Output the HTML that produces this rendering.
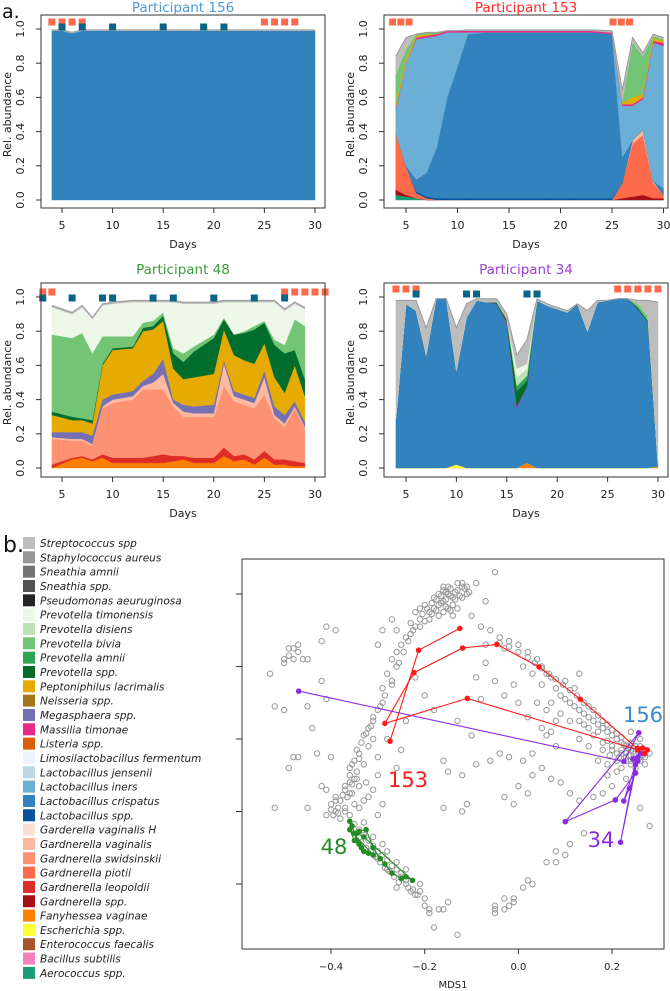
<!DOCTYPE html>
<html><head><meta charset="utf-8">
<style>
html,body{margin:0;padding:0;background:#fff;}
svg{display:block;font-family:"DejaVu Sans","Liberation Sans",sans-serif;}
</style></head>
<body>
<svg id="fig" width="670" height="991" viewBox="0 0 670 991" xmlns="http://www.w3.org/2000/svg">
<text x="2" y="18" font-size="19" fill="#111">a.</text>
<text x="3" y="552" font-size="22" fill="#111">b.</text>
<g id="panels"></g>
<g id="legend"></g>
<g id="mds"></g>
</svg>
<script>
const taxa = ["Streptococcus spp","Staphylococcus aureus","Sneathia amnii","Sneathia spp.","Pseudomonas aeuruginosa","Prevotella timonensis","Prevotella disiens","Prevotella bivia","Prevotella amnii","Prevotella spp.","Peptoniphilus lacrimalis","Neisseria spp.","Megasphaera spp.","Massilia timonae","Listeria spp.","Limosilactobacillus fermentum","Lactobacillus jensenii","Lactobacillus iners","Lactobacillus crispatus","Lactobacillus spp.","Garderella vaginalis H","Gardnerella vaginalis","Gardnerella swidsinskii","Gardnerella piotii","Gardnerella leopoldii","Gardnerella spp.","Fanyhessea vaginae","Escherichia spp.","Enterococcus faecalis","Bacillus subtilis","Aerococcus spp."];
const taxaColors = ["#bdbdbd","#969696","#737373","#525252","#252525","#edf8e9","#bae4b3","#74c476","#31a354","#006d2c","#e6ab02","#a6761d","#7570b3","#e7298a","#d95f02","#eff3ff","#bdd7e7","#6baed6","#3182bd","#08519c","#fee0d2","#fcbba1","#fc9272","#fb6a4a","#de2d26","#a50f15","#ff7f00","#ffff33","#a65628","#f781bf","#1b9e77"];

const p156Days = [4,5,6,7,8,10,12,13,15,17,19,21,23,25,27,28,30];
const p156Crisp = [0.99,0.99,0.975,0.99,0.99,0.99,0.99,0.99,0.99,0.99,0.99,0.99,0.99,0.99,0.99,0.99,0.99];
const p156Strep = [0.005,0.005,0.005,0.005,0.005,0.005,0.005,0.005,0.005,0.005,0.005,0.005,0.005,0.005,0.005,0.005,0.005];
const p156RedDays = [4,5,6,7,25,26,27,28];
const p156TealDays = [5,7,10,15,19,21];

const p153Days = [4,5,6,7,8,9,10,11,13,15,17,19,21,23,25,26,27,28,29,30];
const p153Aero =   [0.03,0.02,0.01,0,0,0,0,0,0,0,0,0,0,0,0,0,0,0,0,0];
const p153Gspp =   [0.03,0.01,0,0,0,0,0,0,0,0,0,0,0,0,0,0.01,0.02,0.03,0.01,0.01];
const p153Piotii = [0.33,0.17,0.03,0.01,0,0,0,0,0,0,0,0,0,0,0,0.09,0.31,0.35,0.09,0.02];
const p153Gvag =   [0,0,0,0,0,0,0,0,0,0,0,0,0,0,0,0,0.02,0.03,0.01,0];
const p153Lspp =   [0,0,0.01,0.01,0.01,0.01,0.01,0.01,0.01,0.01,0.01,0.01,0.01,0.01,0.01,0,0,0,0,0];
const p153Crisp =  [0,0,0.07,0.14,0.30,0.59,0.77,0.96,0.97,0.97,0.97,0.97,0.97,0.97,0.96,0.15,0,0,0,0.04];
const p153Iners =  [0.14,0.60,0.82,0.79,0.65,0.38,0.20,0.01,0,0,0,0,0,0,0,0.30,0.20,0.18,0.81,0.83];
const p153Mass =   [0.01,0,0.01,0.01,0.01,0.01,0.01,0.01,0.01,0.01,0.01,0.01,0.01,0.01,0.01,0.01,0.01,0.01,0.01,0.02];
const p153Pept =   [0.03,0.02,0.01,0.01,0,0,0,0,0,0,0,0,0,0,0,0.01,0.04,0.02,0.02,0.01];
const p153Bivia =  [0.16,0.06,0.01,0.01,0.01,0,0,0,0,0,0,0,0,0,0,0.01,0.32,0.22,0.01,0.01];
const p153Strep =  [0.11,0.07,0,0,0,0,0,0.005,0.005,0.005,0.005,0.005,0.005,0.005,0.01,0.06,0.03,0.02,0.01,0.01];
const p153RedDays = [3.7,4.5,5.3,25.1,25.9,26.7];

const p48Days = [4,6,7,8,9,10,12,13,14,15,16,17,18,20,21,22,23,24,25,26,27,28,29];
const p48Fany =  [0,0.05,0.06,0.04,0.06,0.03,0.03,0.03,0.03,0.03,0.04,0.05,0.03,0.03,0.07,0.04,0.05,0.02,0.06,0.02,0.02,0.01,0.01];
const p48Leop =  [0.02,0.01,0.01,0.01,0.02,0.03,0.03,0.03,0.04,0.05,0.03,0.02,0.03,0.03,0.05,0.03,0.03,0.03,0.04,0.03,0.03,0.03,0.02];
const p48Swid =  [0.15,0.10,0.09,0.08,0.27,0.32,0.34,0.40,0.39,0.38,0.29,0.23,0.24,0.24,0.36,0.32,0.29,0.30,0.33,0.24,0.19,0.31,0.20];
const p48Gvag =  [0.01,0.01,0.01,0.01,0.01,0.02,0.02,0.02,0.04,0.09,0.02,0.03,0.02,0.02,0.13,0.03,0.03,0.03,0.10,0.02,0.02,0.01,0.01];
const p48Mega =  [0.03,0.04,0.04,0.05,0.04,0.03,0.03,0.03,0.05,0.09,0.02,0.04,0.04,0.05,0.02,0.03,0.03,0.03,0.04,0.05,0.05,0.03,0.03];
const p48Pept =  [0.10,0.07,0.07,0.07,0.20,0.26,0.25,0.29,0.26,0.22,0.18,0.15,0.17,0.18,0.18,0.21,0.20,0.20,0.16,0.17,0.13,0.21,0.15];
const p48Pspp =  [0.02,0.02,0.01,0.02,0.01,0.01,0.01,0.02,0.02,0.03,0.09,0.10,0.15,0.21,0.06,0.12,0.16,0.20,0.12,0.19,0.23,0.09,0.10];
const p48Bivia = [0.45,0.46,0.50,0.39,0.16,0.07,0.06,0.03,0.03,0.02,0.03,0.05,0.03,0.02,0.01,0,0.01,0.02,0.01,0.03,0.05,0.18,0.31];
const p48Timon = [0.16,0.14,0.15,0.20,0.18,0.19,0.20,0.12,0.11,0.06,0.27,0.29,0.25,0.18,0.09,0.19,0.17,0.14,0.11,0.22,0.20,0.09,0.10];
const p48Strep = [0.01,0.01,0.01,0.01,0.01,0.01,0.01,0.01,0.01,0.01,0.01,0.01,0.01,0.01,0.01,0.01,0.01,0.01,0.01,0.01,0.01,0.01,0.01];
const p48RedDays = [3.1,4,27,28,29,30,31];
const p48TealDays = [3.1,6,9,10,14,16,20,24,27];

const p34Days = [4,5,6,7,8,9,10,11,12,13,14,15,16,17,18,19,20,21,22,23,24,25,26,27,28,29,30];
const p34Fany =  [0,0,0,0,0,0,0,0,0,0,0,0,0,0.03,0,0,0,0,0,0,0,0,0,0,0,0,0.01];
const p34Esch =  [0,0,0,0,0,0,0.02,0,0,0,0,0,0,0,0,0,0,0,0,0,0,0,0,0,0,0,0];
const p34Crisp = [0.29,0.96,0.92,0.66,0.99,0.99,0.55,0.88,0.98,0.97,0.96,0.84,0.35,0.45,0.98,0.95,0.93,0.91,0.96,0.80,0.97,0.98,0.99,0.99,0.93,0.85,0.01];
const p34Mass =  [0,0,0,0,0,0,0,0,0,0,0,0.01,0.01,0,0,0,0,0,0,0,0,0,0,0,0,0,0];
const p34Pspp =  [0,0,0,0,0,0,0,0,0,0,0.01,0.02,0.09,0.03,0,0,0,0,0,0,0,0,0,0,0.01,0.01,0];
const p34Amnii = [0,0,0,0,0,0,0,0,0,0,0,0,0.03,0.03,0,0,0,0,0,0,0,0,0,0,0,0,0];
const p34Bivia = [0,0,0,0,0,0,0,0,0,0,0,0,0,0,0,0,0,0,0,0,0,0,0,0,0.02,0.03,0];
const p34Dis =   [0,0,0,0,0,0,0,0,0,0,0,0,0.05,0.04,0,0,0,0,0,0,0,0,0,0,0,0,0];
const p34Timon = [0,0,0,0,0,0,0,0,0,0,0,0,0.05,0.03,0,0,0,0,0,0,0,0,0,0,0,0,0];
const p34Strep = [0.69,0.02,0.06,0.16,0,0,0.25,0.08,0.01,0.02,0.02,0.03,0.08,0.14,0.01,0.01,0.01,0.01,0,0.12,0.01,0,0,0,0.02,0.09,0.95];
const p34RedDays = [4,5,6,26,27,28,29,30];
const p34TealDays = [6,11,12,17,18];

const mdsX = [-0.17,-0.16,-0.15,-0.16,-0.17,-0.18,-0.14,-0.13,-0.12,-0.13,-0.11,-0.14,-0.19,-0.20,-0.21,-0.15,-0.18,-0.16,-0.12,-0.11,-0.09,-0.07,-0.19,-0.21,-0.14,-0.22,-0.17,-0.15,-0.05,-0.13,
-0.22,-0.23,-0.24,-0.25,-0.26,-0.27,-0.26,-0.28,-0.29,-0.27,-0.29,-0.30,-0.31,-0.32,-0.33,-0.32,-0.34,-0.35,-0.33,-0.36,-0.35,-0.37,-0.36,-0.38,-0.40,-0.39,-0.41,-0.38,-0.36,-0.34,-0.37,-0.30,-0.31,-0.29,-0.32,-0.34,-0.30,-0.28,-0.31,-0.36,-0.42,-0.41,-0.39,-0.33,-0.30,
-0.31,-0.29,-0.28,-0.26,-0.25,-0.24,-0.23,-0.22,-0.21,-0.26,-0.28,-0.30,-0.20,-0.19,-0.17,-0.16,-0.21,-0.24,
-0.10,-0.08,-0.06,-0.04,-0.02,0.00,0.02,-0.03,0.04,0.05,0.06,0.07,0.05,0.08,0.09,0.10,0.11,0.12,0.13,0.14,0.15,0.16,0.17,0.18,0.19,0.20,0.21,0.22,0.23,0.24,0.22,0.20,0.23,0.25,0.21,0.19,0.17,0.10,0.12,0.13,0.01,0.03,-0.01,0.07,0.09,0.11,0.14,0.16,0.13,0.15,0.18,0.08,0.05,0.02,0.00,-0.03,-0.05,-0.07,-0.09,-0.07,
-0.20,-0.22,-0.18,-0.16,-0.15,-0.13,-0.10,-0.08,-0.06,-0.04,-0.03,-0.01,0.00,0.03,0.05,0.07,0.09,0.11,0.13,0.08,0.06,0.03,-0.09,-0.12,-0.16,-0.12,-0.11,-0.02,0.02,0.01,-0.24,-0.25,-0.26,-0.43,-0.40,-0.44,-0.45,-0.42,-0.41,-0.45,-0.50,-0.52,-0.53,-0.52,-0.48,-0.49,-0.47,-0.29,-0.30,-0.27,-0.26,-0.41,-0.42,-0.39,
-0.50,-0.49,-0.48,-0.49,-0.47,-0.50,-0.48,-0.47,-0.46,-0.45,
0.24,0.25,0.26,0.26,0.27,0.23,0.24,0.22,0.25,0.27,0.28,0.26,0.24,0.21,0.19,0.20,0.23,0.26,0.28,0.18,0.16,
0.14,0.11,0.10,0.08,0.06,0.08,0.03,0.02,0.01,-0.01,-0.01,-0.02,-0.03,-0.03,-0.05,-0.05,-0.05,-0.13,-0.18,-0.19,-0.15];
const mdsY = [0.40,0.41,0.40,0.38,0.37,0.36,0.39,0.41,0.42,0.43,0.42,0.37,0.35,0.37,0.36,0.36,0.39,0.35,0.39,0.40,0.43,0.38,0.33,0.33,0.34,0.35,0.34,0.42,0.46,0.36,
0.31,0.29,0.28,0.26,0.24,0.22,0.20,0.18,0.14,0.15,0.10,0.08,0.05,0.03,0.01,-0.02,-0.04,-0.06,-0.07,-0.08,-0.11,-0.13,-0.15,-0.17,-0.18,-0.20,-0.21,-0.22,-0.21,-0.19,-0.19,-0.10,-0.14,-0.18,-0.16,-0.13,-0.05,0.00,0.00,-0.12,-0.13,-0.14,-0.16,-0.23,-0.21,
-0.27,-0.29,-0.31,-0.34,-0.38,-0.40,-0.42,-0.43,-0.42,-0.41,-0.36,-0.33,-0.46,-0.48,-0.47,-0.47,-0.40,-0.36,
0.34,0.31,0.30,0.28,0.27,0.26,0.24,0.25,0.22,0.20,0.18,0.17,0.15,0.14,0.12,0.11,0.10,0.09,0.08,0.07,0.06,0.05,0.04,0.03,0.02,0.01,0.00,-0.01,-0.02,-0.03,-0.04,-0.03,-0.05,-0.02,-0.06,-0.07,-0.06,0.16,0.14,0.18,0.20,0.18,0.15,0.10,0.07,0.05,0.04,0.01,0.00,-0.02,-0.01,0.05,0.03,0.06,0.10,0.12,0.16,0.21,0.17,0.26,
0.12,0.17,0.08,-0.06,-0.09,0.05,0.01,0.11,-0.06,-0.04,-0.16,-0.18,-0.13,-0.10,-0.08,-0.11,-0.12,-0.15,-0.17,-0.02,0.01,-0.04,-0.07,-0.10,-0.19,-0.20,-0.18,-0.05,-0.15,-0.06,0.05,-0.03,-0.08,-0.04,-0.05,0.03,-0.19,0.16,0.11,0.09,0.08,0.09,0.18,-0.19,-0.05,-0.08,-0.05,0.30,0.26,0.33,0.30,0.31,0.27,0.30,
0.22,0.23,0.22,0.25,0.24,0.21,0.25,0.26,0.22,0.22,
-0.01,-0.04,-0.02,-0.05,-0.03,-0.04,-0.06,-0.08,-0.08,-0.07,-0.04,0.00,0.02,-0.09,-0.10,-0.13,-0.11,-0.19,-0.24,-0.15,-0.16,
-0.26,-0.29,-0.32,-0.34,-0.34,-0.31,-0.40,-0.39,-0.41,-0.44,-0.45,-0.46,-0.44,-0.47,-0.47,-0.46,-0.48,-0.54,-0.52,-0.47,-0.45];
const mdsDenseX = [-0.165,-0.155,-0.145,-0.165,-0.175,-0.185,-0.135,-0.125,-0.115,-0.145,-0.155,-0.175,-0.195,-0.205,-0.155,-0.135,-0.105,-0.12,-0.16,-0.185,-0.145,-0.2,-0.21,-0.23,-0.225,
-0.315,-0.325,-0.335,-0.345,-0.34,-0.355,-0.345,-0.36,-0.355,-0.37,-0.365,-0.375,-0.39,-0.385,-0.40,-0.395,-0.385,-0.37,-0.35,-0.33,-0.355,-0.345,-0.325,-0.31,-0.295,-0.285,-0.27,-0.255,-0.245,-0.235,
-0.35,-0.34,-0.33,-0.32,-0.31,-0.30,-0.29,-0.28,-0.27,-0.26,-0.25,-0.24,-0.235,-0.225,-0.215,-0.255,-0.265,-0.275,-0.285,-0.295,-0.305,-0.315,-0.325,-0.335,-0.2,
-0.04,-0.02,0.0,0.02,0.035,0.05,0.065,0.08,0.095,0.11,0.125,0.14,0.15,0.16,0.17,0.18,0.19,0.20,0.21,0.22,0.225,0.235,0.245,0.13,0.15,0.17,0.19,0.2,0.21,0.215,0.195,0.18,0.06,0.07,0.04,
0.235,0.245,0.255,0.265,0.25,0.24,0.23,0.22,0.26,0.27];
const mdsDenseY = [0.395,0.385,0.395,0.375,0.385,0.375,0.405,0.395,0.415,0.415,0.365,0.355,0.36,0.345,0.405,0.385,0.405,0.43,0.42,0.345,0.355,0.325,0.31,0.32,0.30,
0.035,0.015,-0.01,-0.03,-0.055,-0.07,-0.09,-0.10,-0.125,-0.14,-0.16,-0.155,-0.17,-0.19,-0.195,-0.21,-0.205,-0.2,-0.18,-0.17,-0.15,-0.11,-0.12,0.06,0.09,0.12,0.16,0.21,0.24,0.27,
-0.235,-0.25,-0.265,-0.28,-0.295,-0.31,-0.32,-0.335,-0.35,-0.36,-0.37,-0.39,-0.41,-0.415,-0.43,-0.395,-0.38,-0.365,-0.355,-0.34,-0.325,-0.31,-0.30,-0.285,-0.44,
0.265,0.255,0.24,0.225,0.21,0.195,0.18,0.165,0.15,0.135,0.12,0.10,0.09,0.08,0.065,0.05,0.04,0.025,0.015,0.005,-0.015,-0.025,-0.035,0.05,0.03,0.02,-0.005,-0.02,-0.04,-0.05,-0.045,-0.03,0.08,0.02,0.10,
-0.045,-0.055,-0.035,-0.045,-0.02,-0.07,-0.06,-0.03,-0.06,-0.05];
const red153aX = [-0.274,-0.213,-0.125];
const red153aY = [-0.006,0.245,0.305];
const red153bX = [0.255,-0.109,-0.285,-0.223,-0.119,-0.046,0.044,0.132,0.254,0.265,0.275,0.27];
const red153bY = [-0.03,0.112,0.043,0.183,0.251,0.261,0.199,0.110,-0.026,-0.025,-0.03,-0.04];
const pur34X = [-0.469,0.225,0.257,0.100,0.207,0.250,0.237,0.225,0.250,0.218,0.255,0.261,0.245,0.255];
const pur34Y = [0.132,-0.062,0.017,-0.228,-0.168,-0.094,-0.136,-0.171,-0.070,-0.285,-0.050,-0.040,-0.055,-0.060];
const grn48X = [-0.36,-0.355,-0.35,-0.345,-0.34,-0.335,-0.33,-0.32,-0.31,-0.36,-0.35,-0.34,-0.325,-0.31,-0.295,-0.285,-0.27,-0.25,-0.24,-0.226,-0.33,-0.345];
const grn48Y = [-0.227,-0.24,-0.26,-0.28,-0.29,-0.30,-0.31,-0.315,-0.32,-0.25,-0.28,-0.255,-0.25,-0.30,-0.33,-0.345,-0.37,-0.385,-0.38,-0.39,-0.27,-0.26];
const mdsXTicks = [-0.4,-0.2,0.0,0.2];
const mdsXTickLabels = ["-0.4","-0.2","0.0","0.2"];
const mdsYTicks = [0.4,0.2,0.0,-0.2,-0.4];

const NS = "http://www.w3.org/2000/svg";
function mk(tag, attrs, parent){ const e=document.createElementNS(NS,tag); for(const k in attrs) e.setAttribute(k,attrs[k]); if(parent) parent.appendChild(e); return e; }
function col(name){ return taxaColors[taxa.indexOf(name)]; }

const panelsG = document.getElementById('panels');

function drawPanel(cfg){
  const g = mk('g',{},panelsG);
  
  
  const xs = d => cfg.x5 + (d-5)*cfg.k;
  const ys = v => cfg.y0 - v*(cfg.y0-cfg.y1);
  const cum = cfg.days.map(()=>0);
  cfg.layers.forEach(L=>{
    const lower = cum.slice();
    L.vals.forEach((v,i)=>cum[i]+=v);
    let pts = cfg.days.map((d,i)=>xs(d).toFixed(1)+","+ys(cum[i]).toFixed(1));
    for(let i=cfg.days.length-1;i>=0;i--) pts.push(xs(cfg.days[i]).toFixed(1)+","+ys(lower[i]).toFixed(1));
    const p = mk('polygon',{points:pts.join(" "),fill:col(L.name),stroke:col(L.name),'stroke-width':0.4},g);
    
    
  });
  const top = mk('polyline',{points:cfg.days.map((d,i)=>xs(d).toFixed(1)+","+ys(cum[i]).toFixed(1)).join(" "),fill:'none',stroke:'#9a9a9a','stroke-width':1},g);
  
  
  cfg.red.forEach(d=>{
    const r = mk('rect',{x:xs(d)-3.5,y:cfg.redY-3.5,width:7,height:7,fill:'#fb6a4a'},g);
    
    
  });
  (cfg.teal||[]).forEach(d=>{
    const r = mk('rect',{x:xs(d)-3.5,y:cfg.tealY-3.5,width:7,height:7,fill:'#0b6386'},g);
    
    
  });
  const b = mk('rect',{x:cfg.bx0,y:cfg.by0,width:cfg.bx1-cfg.bx0,height:cfg.by1-cfg.by0,fill:'none',stroke:'#333','stroke-width':1},g);
  
  
  [0,0.2,0.4,0.6,0.8,1.0].forEach(v=>{
    mk('line',{x1:cfg.bx0-5,x2:cfg.bx0,y1:ys(v),y2:ys(v),stroke:'#333'},g);
    const t = mk('text',{x:0,y:0,'font-size':11,fill:'#222','text-anchor':'middle',transform:`translate(${cfg.bx0-17},${ys(v)}) rotate(-90)`},g);
    t.textContent = v.toFixed(1);
    
    
  });
  const yl = mk('text',{x:0,y:0,'font-size':11,fill:'#222','text-anchor':'middle',transform:`translate(${cfg.bx0-30},${(cfg.y0+cfg.y1)/2}) rotate(-90)`},g);
  yl.textContent = 'Rel. abundance';
  
  
  [5,10,15,20,25,30].forEach(d=>{
    mk('line',{x1:xs(d),x2:xs(d),y1:cfg.by1,y2:cfg.by1+5,stroke:'#333'},g);
    const t = mk('text',{x:xs(d),y:cfg.by1+21,'font-size':11,fill:'#222','text-anchor':'middle'},g);
    t.textContent = d;
    
    
  });
  const xl = mk('text',{x:(cfg.bx0+cfg.bx1)/2,y:cfg.by1+40,'font-size':11,fill:'#222','text-anchor':'middle'},g);
  xl.textContent = 'Days';
  
  
  const tt = mk('text',{x:(cfg.bx0+cfg.bx1)/2,y:cfg.titleY,'font-size':13.5,fill:cfg.titleColor,'text-anchor':'middle'},g);
  tt.textContent = cfg.title;
  
  
}

drawPanel({id:'panel-participant-156',title:'Participant 156',titleColor:'#4f9bd4',titleY:12,
  x5:62,k:10.12,y0:200,y1:29,bx0:41,bx1:325,by0:15,by1:208,redY:22,tealY:27,
  days:p156Days,red:p156RedDays,teal:p156TealDays,
  layers:[{name:"Lactobacillus crispatus",vals:p156Crisp},{name:"Streptococcus spp",vals:p156Strep}]});

drawPanel({id:'panel-participant-153',title:'Participant 153',titleColor:'#ff2a2a',titleY:12,
  x5:406,k:10.3,y0:200,y1:29,bx0:384,bx1:668,by0:15,by1:208,redY:22,
  days:p153Days,red:p153RedDays,
  layers:[{name:"Aerococcus spp.",vals:p153Aero},{name:"Gardnerella spp.",vals:p153Gspp},{name:"Gardnerella piotii",vals:p153Piotii},{name:"Gardnerella vaginalis",vals:p153Gvag},{name:"Lactobacillus spp.",vals:p153Lspp},{name:"Lactobacillus crispatus",vals:p153Crisp},{name:"Lactobacillus iners",vals:p153Iners},{name:"Massilia timonae",vals:p153Mass},{name:"Peptoniphilus lacrimalis",vals:p153Pept},{name:"Prevotella bivia",vals:p153Bivia},{name:"Streptococcus spp",vals:p153Strep}]});

drawPanel({id:'panel-participant-48',title:'Participant 48',titleColor:'#3d9b3d',titleY:274,
  x5:62,k:10.12,y0:468,y1:297,bx0:41,bx1:325,by0:283,by1:477,redY:292,tealY:298,
  days:p48Days,red:p48RedDays,teal:p48TealDays,
  layers:[{name:"Fanyhessea vaginae",vals:p48Fany},{name:"Gardnerella leopoldii",vals:p48Leop},{name:"Gardnerella swidsinskii",vals:p48Swid},{name:"Gardnerella vaginalis",vals:p48Gvag},{name:"Megasphaera spp.",vals:p48Mega},{name:"Peptoniphilus lacrimalis",vals:p48Pept},{name:"Prevotella spp.",vals:p48Pspp},{name:"Prevotella bivia",vals:p48Bivia},{name:"Prevotella timonensis",vals:p48Timon},{name:"Streptococcus spp",vals:p48Strep}]});

drawPanel({id:'panel-participant-34',title:'Participant 34',titleColor:'#9b40d8',titleY:274,
  x5:406,k:10.08,y0:468,y1:297,bx0:384,bx1:668,by0:283,by1:477,redY:289,tealY:294,
  days:p34Days,red:p34RedDays,teal:p34TealDays,
  layers:[{name:"Fanyhessea vaginae",vals:p34Fany},{name:"Escherichia spp.",vals:p34Esch},{name:"Lactobacillus crispatus",vals:p34Crisp},{name:"Massilia timonae",vals:p34Mass},{name:"Prevotella spp.",vals:p34Pspp},{name:"Prevotella amnii",vals:p34Amnii},{name:"Prevotella bivia",vals:p34Bivia},{name:"Prevotella disiens",vals:p34Dis},{name:"Prevotella timonensis",vals:p34Timon},{name:"Streptococcus spp",vals:p34Strep}]});

const lg = document.getElementById('legend');
taxa.forEach((n,i)=>{
  const y = 543 + i*14.33;
  const g = mk('g',{},lg);
  
  
  mk('rect',{x:23,y:y-6,width:12,height:12,fill:taxaColors[i]},g);
  const t = mk('text',{x:40,y:y+4,'font-size':10.5,'font-style':'italic',fill:'#222'},g);
  t.textContent = n;
});

const mg = document.getElementById('mds');
const mx = v => 331 + (v+0.4)*468.5;
const my = v => 739 - v*362.5;
const frame = mk('rect',{x:242,y:559,width:422,height:390,fill:'none',stroke:'#333'},mg);


mdsXTicks.forEach((v,i)=>{
  mk('line',{x1:mx(v),x2:mx(v),y1:949,y2:954,stroke:'#333'},mg);
  const t = mk('text',{x:mx(v),y:970,'font-size':10,fill:'#222','text-anchor':'middle'},mg);
  t.textContent = mdsXTickLabels[i].replace('-','\u2212');
  
  
});
mdsYTicks.forEach(v=>{ mk('line',{x1:236,x2:242,y1:my(v),y2:my(v),stroke:'#333'},mg); });
const mxl = mk('text',{x:453,y:988,'font-size':10,fill:'#222','text-anchor':'middle'},mg);
mxl.textContent = 'MDS1';


function grayPts(xa, ya){
  xa.forEach((x,i)=>{
    const c = mk('circle',{cx:mx(x),cy:my(ya[i]),r:2.7,fill:'none',stroke:'#9a9a9a','stroke-width':1},mg);
    
    
  });
}
grayPts(mdsX, mdsY);
grayPts(mdsDenseX, mdsDenseY);
function traj(xsArr, ysArr, color, name){
  const g = mk('g',{},mg);
  
  
  mk('polyline',{points:xsArr.map((x,i)=>mx(x).toFixed(1)+","+my(ysArr[i]).toFixed(1)).join(" "),fill:'none',stroke:color,'stroke-width':1.1},g);
  xsArr.forEach((x,i)=>{ mk('circle',{cx:mx(x),cy:my(ysArr[i]),r:2.8,fill:color},g); });
}
traj(grn48X, grn48Y, '#228b22', 'trajectory-participant-48');
traj(pur34X, pur34Y, '#8a2be2', 'trajectory-participant-34');
traj(red153aX, red153aY, '#ff1a1a', 'trajectory-participant-153-a');
traj(red153bX, red153bY, '#ff1a1a', 'trajectory-participant-153-b');
const labs = [["153",408,787,'#ff1a1a'],["48",334,854,'#228b22'],["34",601,847,'#8a2be2'],["156",643,722,'#3c8ccc']];
labs.forEach(l=>{
  const t = mk('text',{x:l[1],y:l[2],'font-size':21,fill:l[3],'text-anchor':'middle'},mg);
  t.textContent = l[0];
  
  
});
</script>
</body></html>
